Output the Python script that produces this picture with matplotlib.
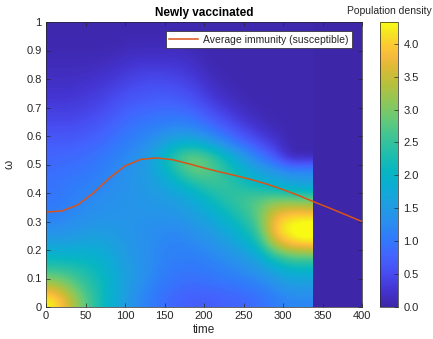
import numpy as np
import matplotlib
matplotlib.use("Agg")
import matplotlib.pyplot as plt
from matplotlib.colors import LinearSegmentedColormap

plt.rcParams['font.family'] = ['Liberation Sans', 'DejaVu Sans']

# Parula-like colormap anchors
parula_stops = [0.00, 0.06, 0.12, 0.18, 0.24, 0.30, 0.36, 0.42, 0.48, 0.54,
                0.60, 0.66, 0.72, 0.78, 0.84, 0.88, 0.92, 0.96, 1.00]
parula_rgb = [(0.242, 0.150, 0.660), (0.268, 0.205, 0.825), (0.281, 0.305, 0.950),
              (0.262, 0.395, 0.995), (0.190, 0.480, 0.985), (0.160, 0.560, 0.935),
              (0.120, 0.620, 0.880), (0.050, 0.675, 0.830), (0.030, 0.715, 0.760),
              (0.130, 0.745, 0.670), (0.250, 0.770, 0.580), (0.400, 0.790, 0.470),
              (0.560, 0.780, 0.350), (0.710, 0.755, 0.240), (0.860, 0.730, 0.210),
              (0.960, 0.730, 0.240), (0.990, 0.790, 0.200), (0.960, 0.890, 0.140),
              (0.977, 0.984, 0.081)]
parula = LinearSegmentedColormap.from_list("parula", list(zip(parula_stops, parula_rgb)))

# Density grid: rows are omega bins (0.025 ... 0.975), columns are time bins (10 ... 330)
t_end = 337
omega_centers = np.arange(0.025, 1.0, 0.05)
time_centers = np.arange(10, 340, 20)
density = np.array([
    # t: 10   30   50   70   90  110  130  150  170  190  210  230  250  270  290  310  330
    [4.30, 3.50, 2.80, 2.20, 1.75, 1.35, 1.10, 0.90, 0.75, 0.70, 0.70, 0.75, 0.80, 0.90, 1.05, 1.20, 1.20],  # 0.025
    [3.40, 3.00, 2.50, 2.20, 1.80, 1.45, 1.20, 1.00, 0.90, 0.85, 0.90, 0.95, 1.00, 1.10, 1.30, 1.50, 1.50],  # 0.075
    [2.60, 2.50, 2.30, 2.10, 1.75, 1.50, 1.30, 1.10, 1.00, 1.00, 1.05, 1.15, 1.25, 1.40, 1.60, 1.90, 1.90],  # 0.125
    [2.05, 2.00, 2.00, 1.90, 1.65, 1.45, 1.30, 1.15, 1.10, 1.10, 1.20, 1.30, 1.45, 1.70, 2.30, 2.70, 2.70],  # 0.175
    [1.60, 1.60, 1.70, 1.70, 1.55, 1.40, 1.30, 1.20, 1.15, 1.25, 1.35, 1.55, 1.80, 2.20, 3.50, 4.00, 4.20],  # 0.225
    [1.30, 1.35, 1.45, 1.50, 1.45, 1.40, 1.30, 1.25, 1.25, 1.40, 1.55, 1.80, 2.10, 2.60, 4.00, 4.45, 4.65],  # 0.275
    [1.10, 1.20, 1.30, 1.35, 1.40, 1.40, 1.40, 1.40, 1.45, 1.60, 1.80, 2.10, 2.40, 2.80, 3.70, 4.00, 4.00],  # 0.325
    [1.00, 1.10, 1.20, 1.30, 1.35, 1.40, 1.45, 1.50, 1.60, 1.80, 2.10, 2.40, 2.60, 2.80, 3.00, 3.00, 2.90],  # 0.375
    [0.95, 1.05, 1.10, 1.20, 1.30, 1.40, 1.50, 1.65, 1.90, 2.20, 2.50, 2.50, 2.30, 2.10, 1.90, 1.70, 1.60],  # 0.425
    [0.90, 0.95, 1.00, 1.10, 1.25, 1.40, 1.55, 1.90, 2.45, 2.90, 2.75, 2.40, 2.00, 1.70, 1.50, 1.30, 1.30],  # 0.475
    [0.80, 0.85, 0.90, 1.00, 1.15, 1.30, 1.50, 2.10, 2.70, 3.00, 2.65, 2.10, 1.60, 1.10, 0.70, 0.05, 0.05],  # 0.525
    [0.70, 0.70, 0.75, 0.85, 1.00, 1.15, 1.30, 1.60, 1.90, 1.90, 1.60, 1.20, 0.85, 0.55, 0.30, 0.05, 0.05],  # 0.575
    [0.55, 0.55, 0.60, 0.70, 0.85, 1.00, 1.10, 1.20, 1.30, 1.20, 0.95, 0.70, 0.45, 0.25, 0.10, 0.05, 0.05],  # 0.625
    [0.40, 0.40, 0.45, 0.55, 0.70, 0.85, 0.90, 0.95, 0.95, 0.85, 0.60, 0.40, 0.20, 0.10, 0.05, 0.05, 0.05],  # 0.675
    [0.30, 0.30, 0.35, 0.40, 0.55, 0.65, 0.70, 0.75, 0.70, 0.55, 0.35, 0.20, 0.10, 0.05, 0.05, 0.05, 0.05],  # 0.725
    [0.20, 0.20, 0.25, 0.30, 0.40, 0.50, 0.55, 0.55, 0.50, 0.40, 0.20, 0.10, 0.05, 0.05, 0.05, 0.05, 0.05],  # 0.775
    [0.15, 0.15, 0.15, 0.20, 0.25, 0.35, 0.40, 0.40, 0.35, 0.25, 0.10, 0.05, 0.05, 0.05, 0.05, 0.05, 0.05],  # 0.825
    [0.10, 0.10, 0.10, 0.10, 0.15, 0.20, 0.20, 0.20, 0.20, 0.15, 0.05, 0.05, 0.05, 0.05, 0.05, 0.05, 0.05],  # 0.875
    [0.05, 0.05, 0.05, 0.05, 0.05, 0.10, 0.10, 0.10, 0.10, 0.05, 0.05, 0.05, 0.05, 0.05, 0.05, 0.05, 0.05],  # 0.925
    [0.05, 0.05, 0.05, 0.05, 0.05, 0.05, 0.05, 0.05, 0.05, 0.05, 0.05, 0.05, 0.05, 0.05, 0.05, 0.05, 0.05],  # 0.975
])
density_max = 4.33

# Average immunity of the susceptible population over time
avg_time = [0, 20, 40, 60, 80, 100, 120, 140, 160, 180, 200, 220, 240, 260, 280, 300, 320, 340, 360, 380, 400]
avg_immunity = [0.333, 0.337, 0.358, 0.400, 0.452, 0.495, 0.518, 0.523, 0.517, 0.503, 0.488,
                0.474, 0.461, 0.447, 0.431, 0.412, 0.391, 0.368, 0.346, 0.323, 0.300]

x_ticks = [0, 50, 100, 150, 200, 250, 300, 350, 400]
y_ticks = [0, 0.1, 0.2, 0.3, 0.4, 0.5, 0.6, 0.7, 0.8, 0.9, 1]
y_tick_labels = ["0", "0.1", "0.2", "0.3", "0.4", "0.5", "0.6", "0.7", "0.8", "0.9", "1"]
cbar_ticks = [0.0, 0.5, 1.0, 1.5, 2.0, 2.5, 3.0, 3.5, 4.0]

txt = (0.15, 0.15, 0.15)

fig = plt.figure(figsize=(4.33, 3.39), dpi=100)
ax = fig.add_axes([46 / 433, 32 / 339, 316 / 433, 285 / 339])
cax = fig.add_axes([380 / 433, 32 / 339, 18 / 433, 285 / 339])

ax.set_facecolor(parula(0.0))
im = ax.imshow(density, origin="lower", extent=[0, t_end, 0, 1], aspect="auto",
               interpolation="bicubic", cmap=parula, vmin=0, vmax=density_max)
ax.plot(avg_time, avg_immunity, color=(0.85, 0.325, 0.098), lw=1.1,
        label="Average immunity (susceptible)")

ax.set_xlim(0, 400)
ax.set_ylim(0, 1)
ax.set_xticks(x_ticks)
ax.set_yticks(y_ticks)
ax.set_yticklabels(y_tick_labels)
ax.tick_params(direction="in", length=3, width=0.5, color=txt, labelcolor=txt,
               labelsize=8, top=True, right=True, pad=3)
for s in ax.spines.values():
    s.set_color(txt)
    s.set_linewidth(0.5)

ax.set_title("Newly vaccinated", fontsize=8.5, fontweight="bold", pad=4)
ax.set_xlabel("time", fontsize=8.5, color=txt, labelpad=2)
ax.set_ylabel("ω", fontsize=8.5, color=txt, labelpad=8)

leg = ax.legend(loc="upper right", fontsize=7.5, frameon=True, fancybox=False,
                framealpha=1.0, borderpad=0.3, handlelength=2.8, handletextpad=0.5,
                borderaxespad=0, bbox_to_anchor=(0.968, 0.967))
leg.get_frame().set_facecolor("white")
leg.get_frame().set_edgecolor(txt)
leg.get_frame().set_linewidth(0.5)
for t in leg.get_texts():
    t.set_color(txt)

cb = fig.colorbar(im, cax=cax, ticks=cbar_ticks)
cb.ax.set_yticklabels([f"{v:.1f}" for v in cbar_ticks])
cb.ax.tick_params(direction="in", length=3, width=0.5, color=txt, labelcolor=txt,
                  labelsize=8, pad=4)
cb.outline.set_edgecolor(txt)
cb.outline.set_linewidth(0.5)
cax.set_title("Population density", fontsize=7.5, color=txt, pad=6)

fig.savefig("out.png", dpi=100)
